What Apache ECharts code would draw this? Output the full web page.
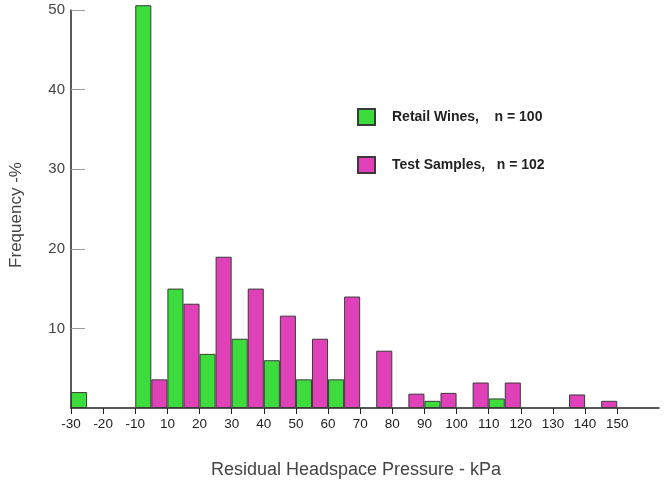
<!DOCTYPE html>
<html>
<head>
<meta charset="utf-8">
<script src="https://cdn.jsdelivr.net/npm/echarts@6/dist/echarts.min.js"></script>
<style>html,body{margin:0;padding:0;background:#fff}#c{width:664px;height:485px}</style>
</head>
<body>
<div id="c"></div>
<script>
// bins between consecutive tick labels
var tickLabels = ['-30','-20','-10','10','20','30','40','50','60','70','80','90','100','110','120','130','140','150'];
var retailWines = [2, null, 50.6, 15, 6.8, 8.7, 6, 3.6, 3.6, null, null, 0.9, null, 1.2, null, null, null];
var testSamples = [null, null, 3.6, 13.1, 19, 15, 11.6, 8.7, 14, 7.2, 1.8, 1.9, 3.2, 3.2, null, 1.7, 0.9];
var yTicks = [10, 20, 30, 40, 50];

function toPairs(arr){ return arr.map(function(v,i){ return [i + 0.5, v]; }); }
var tickIdx = tickLabels.map(function(_, i){ return i; });

var chart = echarts.init(document.getElementById('c'), null, {renderer:'canvas'});
chart.setOption({
  animation: false,
  backgroundColor: '#fff',
  grid: {left: 68, right: 5, top: 10, bottom: 77},
  legend: {
    orient: 'vertical', left: 352, top: 103, itemWidth: 17, itemHeight: 16, itemGap: 30,
    icon: 'rect',
    textStyle: {fontFamily: 'Liberation Sans, Arial', fontSize: 14, fontWeight: 'bold', color: '#222', padding: [0,0,0,12]},
    data: ['Retail Wines,    n = 100', 'Test Samples,   n = 102']
  },
  xAxis: {
    type: 'value', min: 0, max: 18.3, interval: 1,
    name: 'Residual Headspace Pressure - kPa', nameLocation: 'middle', nameGap: 53,
    nameTextStyle: {fontFamily: 'Liberation Sans, Arial', fontSize: 18, color: '#444', padding: [0,18,0,0]},
    axisLine: {lineStyle: {color: '#222', width: 1.5}},
    axisTick: {show: true, length: 6, customValues: tickIdx, lineStyle: {color: '#222'}},
    axisLabel: {customValues: tickIdx, margin: 9, fontFamily: 'Liberation Sans, Arial', fontSize: 13.5, color: '#222',
      formatter: function(v){ return tickLabels[Math.round(v)] || ''; }},
    splitLine: {show: false}
  },
  yAxis: {
    type: 'value', min: 0, max: 50, interval: 10,
    name: 'Frequency -%', nameLocation: 'middle', nameGap: 46, nameRotate: 90,
    nameTextStyle: {fontFamily: 'Liberation Sans, Arial', fontSize: 17, color: '#444', padding: [0,12,0,0]},
    axisLine: {show: true, lineStyle: {color: '#222', width: 1.5}},
    axisTick: {show: true, inside: true, length: 14, customValues: yTicks, lineStyle: {color: '#999'}},
    axisLabel: {customValues: yTicks, margin: 6, fontFamily: 'Liberation Sans, Arial', fontSize: 15, color: '#444'},
    splitLine: {show: false}
  },
  series: [
    {name: 'Retail Wines,    n = 100', type: 'bar', data: toPairs(retailWines), clip: false,
     barGap: '0%', barCategoryGap: '0%',
     itemStyle: {color: '#3ddc3d', borderColor: '#3a3a3a', borderWidth: 1}},
    {name: 'Test Samples,   n = 102', type: 'bar', data: toPairs(testSamples), clip: false,
     barGap: '0%', barCategoryGap: '0%',
     itemStyle: {color: '#e040b8', borderColor: '#3a3a3a', borderWidth: 1}}
  ]
});
</script>
</body>
</html>
